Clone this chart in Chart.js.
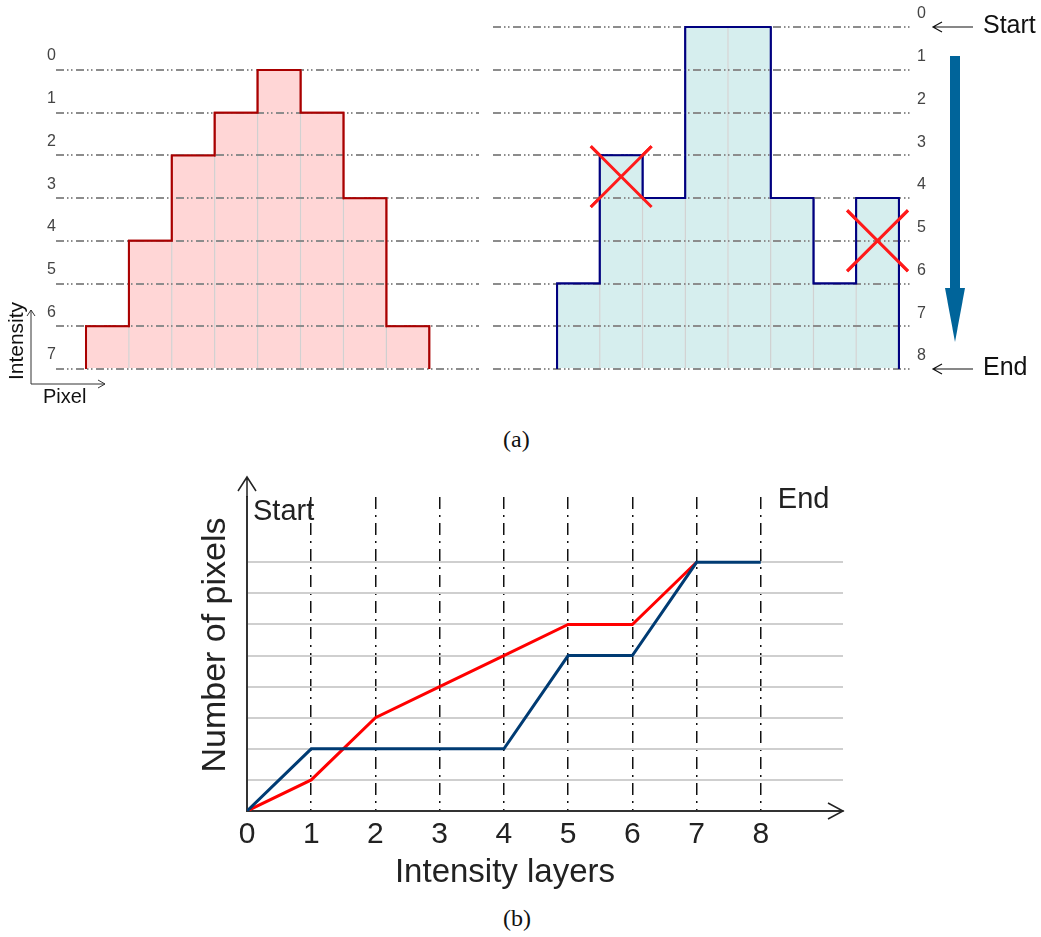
<!DOCTYPE html>
<html>
<head>
<meta charset="utf-8">
<script src="https://cdn.jsdelivr.net/npm/chart.js@4.4.1/dist/chart.umd.min.js"></script>
<style>
  body { margin: 0; background: #fff; width: 1041px; height: 937px; position: relative; overflow: hidden; }
  canvas { position: absolute; }
  .cap { position: absolute; font-family: 'Liberation Serif', 'DejaVu Serif', serif; font-size: 24px; line-height: 1; color: #111; }
</style>
</head>
<body>
<canvas id="left" width="490" height="420" style="left:0;top:0"></canvas>
<canvas id="right" width="561" height="420" style="left:480px;top:0"></canvas>
<div class="cap" style="left:503px;top:427px">(a)</div>
<canvas id="layers" width="700" height="440" style="left:180px;top:460px"></canvas>
<div class="cap" style="left:503px;top:906px">(b)</div>
<script>
// (a) pixel columns, height counted in intensity layers from the bottom line
const leftLevels = ['0', '1', '2', '3', '4', '5', '6', '7'];
const leftHeights = [1, 3, 5, 6, 7, 6, 4, 1];
const rightLevels = ['0', '1', '2', '3', '4', '5', '6', '7', '8'];
const rightHeights = [2, 5, 4, 8, 8, 4, 2, 4];
// crossed-out cells in the right image (column centre, layer)
const crossedCells = [{ x: 1.5, y: 4.5 }, { x: 7.5, y: 3 }];
const stageNames = ['Start', 'End'];

// (b) pixels counted per intensity layer
const layerTicks = [0, 1, 2, 3, 4, 5, 6, 7, 8];
const countTicks = [0, 1, 2, 3, 4, 5, 6, 7, 8];
const redCounts = [0, 1, 3, 4, 5, 6, 6, 8];
const blueCounts = [0, 2, 2, 2, 2, 5, 5, 8, 8];

const sans = '"Liberation Sans", Arial, sans-serif';
const dashGrid = [8, 3, 1.5, 2.5, 1.5, 3.5];

function cellOutline(heights) {
  const pts = [{ x: 0, y: 0 }];
  heights.forEach((h, i) => { pts.push({ x: i, y: h }, { x: i + 1, y: h }); });
  pts.push({ x: heights.length, y: 0 });
  return pts;
}

// draw outline + crosses again after the (on top) grid lines
const redrawOnTop = {
  id: 'redrawOnTop',
  afterDraw(chart) {
    chart.data.datasets.forEach((ds, i) => {
      if (ds.onTop) chart.getDatasetMeta(i).controller.draw();
    });
  }
};

const pixelAxes = {
  id: 'pixelAxes',
  afterDraw(chart) {
    const { ctx, chartArea: a } = chart;
    const ox = 31, oy = a.bottom + 15;
    ctx.save();
    ctx.strokeStyle = '#333';
    ctx.lineWidth = 1;
    ctx.beginPath();
    ctx.moveTo(ox, oy - 74); ctx.lineTo(ox, oy); ctx.lineTo(ox + 74, oy);
    ctx.moveTo(ox - 4, oy - 68); ctx.lineTo(ox, oy - 74); ctx.lineTo(ox + 4, oy - 68);
    ctx.moveTo(ox + 67, oy - 4); ctx.lineTo(ox + 74, oy); ctx.lineTo(ox + 67, oy + 4);
    ctx.stroke();
    ctx.fillStyle = '#111';
    ctx.font = '20px ' + sans;
    ctx.textBaseline = 'middle';
    ctx.textAlign = 'left';
    ctx.fillText('Pixel', ox + 12, oy + 13);
    ctx.translate(ox - 14, oy - 43);
    ctx.rotate(-Math.PI / 2);
    ctx.textAlign = 'center';
    ctx.font = '21px ' + sans;
    ctx.fillText('Intensity', 0, 0);
    ctx.restore();
  }
};

const scanArrow = {
  id: 'scanArrow',
  afterDraw(chart) {
    const { ctx, chartArea: a, scales: { y } } = chart;
    const R = a.right;
    ctx.save();
    ctx.strokeStyle = '#111';
    ctx.lineWidth = 1.2;
    ctx.fillStyle = '#111';
    ctx.font = '25px ' + sans;
    ctx.textBaseline = 'middle';
    [[y.getPixelForValue(y.max), stageNames[0]], [y.getPixelForValue(y.min), stageNames[1]]].forEach(([py, label]) => {
      ctx.beginPath();
      ctx.moveTo(R + 60, py); ctx.lineTo(R + 20, py);
      ctx.moveTo(R + 29, py - 5); ctx.lineTo(R + 20, py); ctx.lineTo(R + 29, py + 5);
      ctx.stroke();
      ctx.fillText(label, R + 70, py - 1);
    });
    const top = a.top + 29, tip = a.bottom - 27, cx = R + 42;
    ctx.fillStyle = '#00649a';
    ctx.fillRect(cx - 5, top, 10, tip - 54 - top);
    ctx.beginPath();
    ctx.moveTo(cx - 10, tip - 54); ctx.lineTo(cx + 10, tip - 54); ctx.lineTo(cx, tip);
    ctx.closePath();
    ctx.fill();
    ctx.restore();
  }
};

function levelChart(canvasId, cfg) {
  const datasets = [
    {
      type: 'bar',
      data: cfg.heights.map((h, i) => ({ x: i + 0.5, y: h })),
      backgroundColor: cfg.fill,
      borderColor: 'rgba(90,90,90,0.22)',
      borderWidth: 1,
      barPercentage: 1,
      categoryPercentage: 1
    },
    {
      type: 'line',
      data: cellOutline(cfg.heights),
      borderColor: cfg.edge,
      borderWidth: 2,
      pointRadius: 0,
      fill: false,
      onTop: true
    }
  ];
  if (cfg.crosses) {
    datasets.push({
      type: 'line',
      data: cfg.crosses,
      showLine: false,
      pointStyle: 'crossRot',
      pointRadius: 43,
      pointBorderColor: '#ff1a1a',
      pointBorderWidth: 3,
      onTop: true
    });
  }
  return new Chart(document.getElementById(canvasId), {
    type: 'bar',
    data: { datasets },
    options: {
      responsive: false,
      animation: false,
      events: [],
      layout: { padding: cfg.padding, autoPadding: false },
      plugins: { legend: { display: false }, tooltip: { enabled: false } },
      scales: {
        x: {
          type: 'linear', display: false, offset: false, min: cfg.xMin, max: cfg.xMax,
          afterBuildTicks: s => { s.ticks = s.ticks.filter(t => Number.isInteger(t.value)); }
        },
        y: {
          type: 'linear', position: cfg.side, min: 0, max: cfg.levels.length - 1,
          afterFit: s => { s.width = cfg.axisWidth; },
          grid: { color: '#8c8c8c', lineWidth: 2, drawTicks: false, z: 1 },
          border: { display: false, dash: dashGrid },
          ticks: {
            stepSize: 1, labelOffset: cfg.labelOffset, padding: cfg.tickPad, color: '#444',
            font: { family: sans, size: 16 },
            callback: v => cfg.levels[cfg.levels.length - 1 - v]
          }
        }
      }
    },
    plugins: [redrawOnTop, cfg.deco]
  });
}

levelChart('left', {
  heights: leftHeights, levels: leftLevels,
  fill: '#ffd6d6', edge: '#aa0000',
  side: 'left', axisWidth: 56, tickPad: 0, labelOffset: -14,
  xMin: -0.70, xMax: 9.16,
  padding: { left: 0, top: 70, right: 11, bottom: 51 },
  deco: pixelAxes
});

levelChart('right', {
  heights: rightHeights, levels: rightLevels, crosses: crossedCells,
  fill: '#d6eeee', edge: '#000080',
  side: 'right', axisWidth: 40, tickPad: 4, labelOffset: -13,
  xMin: -1.5, xMax: 8.33,
  padding: { left: 13, top: 27, right: 88, bottom: 51 },
  deco: scanArrow
});

const layerDeco = {
  id: 'layerDeco',
  afterDraw(chart) {
    const { ctx, chartArea: a, scales: { x } } = chart;
    ctx.save();
    ctx.strokeStyle = '#222';
    ctx.lineWidth = 1.5;
    ctx.beginPath();
    ctx.moveTo(a.left, a.top); ctx.lineTo(a.left, a.top - 20);
    ctx.moveTo(a.left - 9, a.top - 6); ctx.lineTo(a.left, a.top - 20); ctx.lineTo(a.left + 9, a.top - 6);
    ctx.moveTo(a.right - 15, a.bottom - 8); ctx.lineTo(a.right, a.bottom); ctx.lineTo(a.right - 15, a.bottom + 8);
    ctx.stroke();
    ctx.fillStyle = '#222';
    ctx.textBaseline = 'middle';
    ctx.textAlign = 'left';
    ctx.font = '29px ' + sans;
    ctx.fillText(stageNames[0], x.getPixelForValue(layerTicks[0]) + 6, a.top + 15);
    ctx.fillText(stageNames[1], x.getPixelForValue(layerTicks[layerTicks.length - 1]) + 17, a.top + 3);
    ctx.textAlign = 'center';
    ctx.font = '33px ' + sans;
    ctx.fillText('Intensity layers', 325, 413);
    ctx.translate(36, 185);
    ctx.rotate(-Math.PI / 2);
    ctx.font = '34px ' + sans;
    ctx.fillText('Number of pixels', 0, 0);
    ctx.restore();
  }
};

new Chart(document.getElementById('layers'), {
  type: 'line',
  data: {
    datasets: [
      {
        data: blueCounts.map((v, i) => ({ x: layerTicks[i], y: v })),
        borderColor: '#003b73', borderWidth: 3, pointRadius: 0
      },
      {
        data: redCounts.map((v, i) => ({ x: layerTicks[i], y: v })),
        borderColor: '#ff0000', borderWidth: 3, pointRadius: 0
      }
    ]
  },
  options: {
    responsive: false,
    animation: false,
    events: [],
    layout: { padding: { left: 0, top: 37, right: 37, bottom: 0 }, autoPadding: false },
    plugins: { legend: { display: false }, tooltip: { enabled: false } },
    scales: {
      x: {
        type: 'linear', min: 0, max: 9.28,
        afterBuildTicks: s => { s.ticks = layerTicks.map(v => ({ value: v })); },
        afterFit: s => { s.height = 89; },
        grid: { color: '#111', lineWidth: 1.5, drawTicks: false },
        border: { display: true, color: '#333', width: 2, dash: [12, 6, 2, 6] },
        ticks: { padding: 6, color: '#222', autoSkip: false, maxRotation: 0, font: { family: sans, size: 30 } }
      },
      y: {
        type: 'linear', min: 0, max: 10.1,
        afterBuildTicks: s => { s.ticks = countTicks.map(v => ({ value: v })); },
        afterFit: s => { s.width = 67; },
        grid: { color: '#cfcfcf', lineWidth: 2, drawTicks: false },
        border: { display: true, color: '#333', width: 2 },
        ticks: { display: false }
      }
    }
  },
  plugins: [layerDeco]
});
</script>
</body>
</html>
